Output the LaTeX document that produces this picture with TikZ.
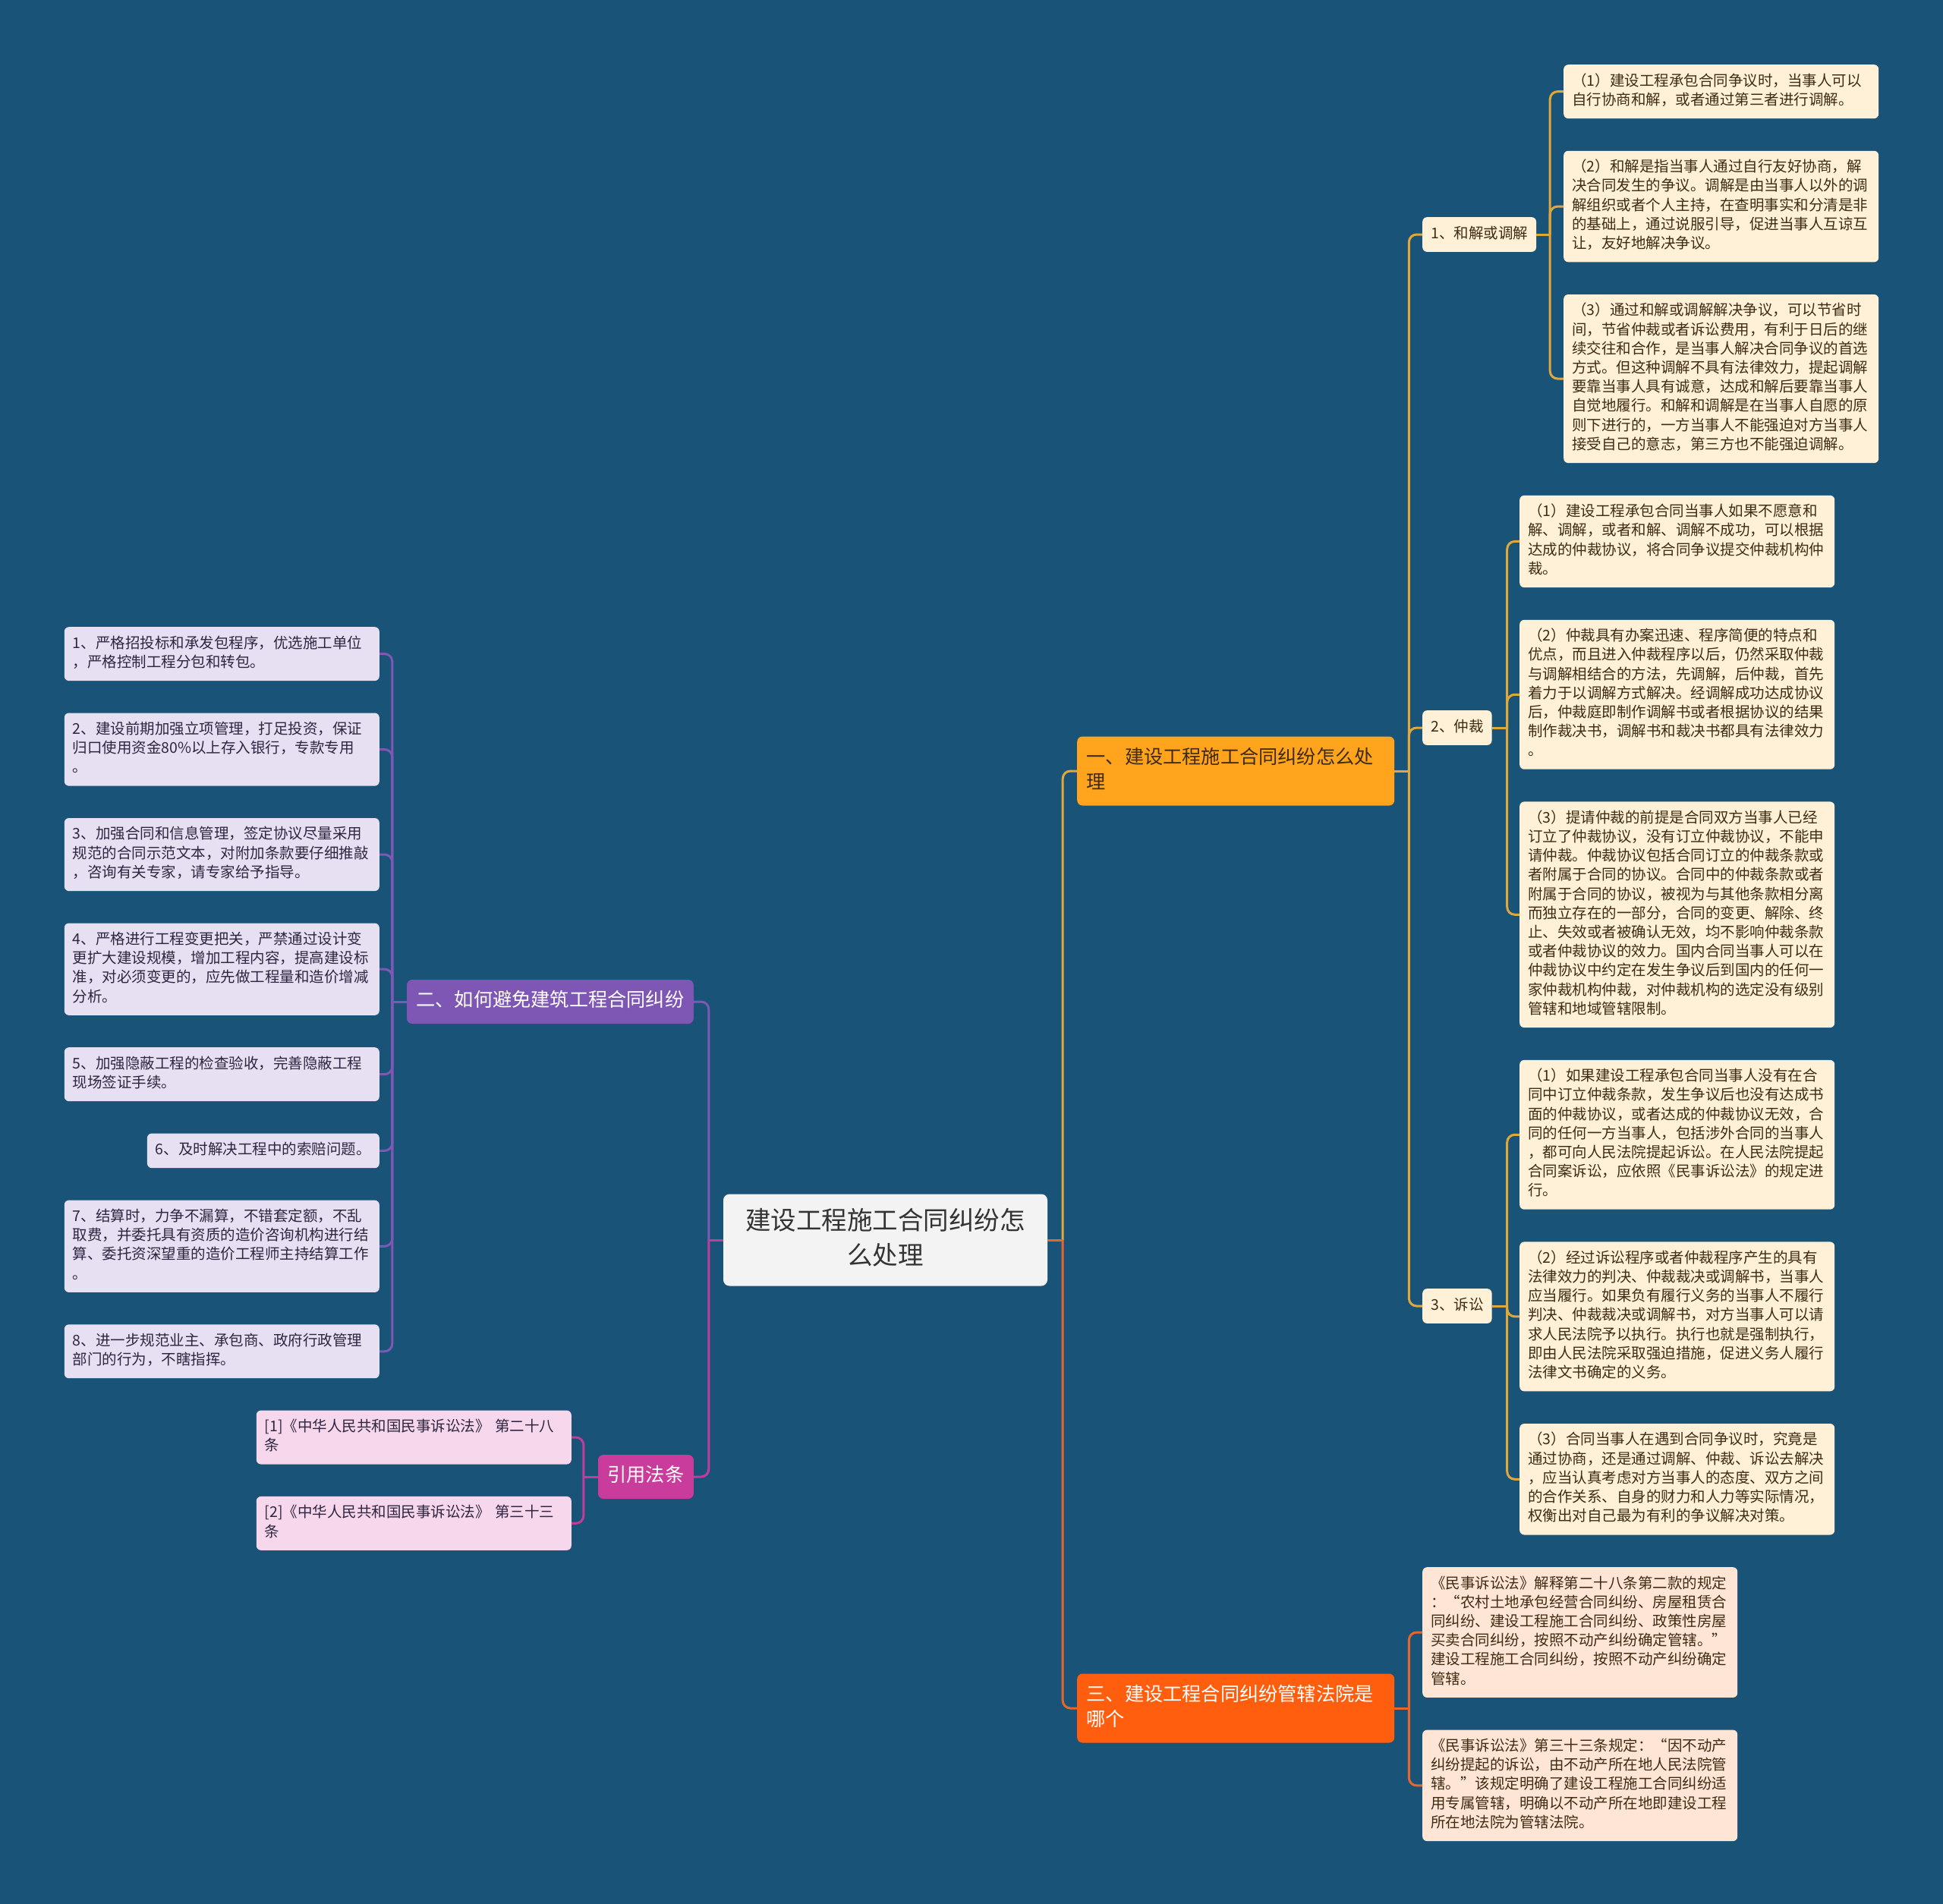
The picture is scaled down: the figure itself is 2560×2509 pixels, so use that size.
\documentclass[tikz,border=0pt]{standalone}
\usepackage{fontspec}
\setmainfont{Noto Sans CJK SC}
\usetikzlibrary{positioning}
\definecolor{TreeBg}{HTML}{1A5378}
\definecolor{TreeRoot}{HTML}{F3F3F3}
\definecolor{TreeInk}{HTML}{333333}
\definecolor{TreeAmber}{HTML}{FFA41C}
\definecolor{TreeFlame}{HTML}{FF5E0E}
\definecolor{TreeViolet}{HTML}{7E56B4}
\definecolor{TreeMagenta}{HTML}{C93C9C}
\definecolor{TreeCream}{HTML}{FFF0D8}
\definecolor{TreePeach}{HTML}{FFE5D6}
\definecolor{TreeLavender}{HTML}{E6E0F2}
\definecolor{TreePink}{HTML}{F6D7EB}
\definecolor{TreeBrown}{HTML}{3E2C12}
\definecolor{TreeDusk}{HTML}{2E2640}
\definecolor{TreeGoldLine}{HTML}{E0A73A}
\definecolor{TreeFlameLine}{HTML}{E8662C}
\definecolor{TreeVioletLine}{HTML}{7E58B2}
\definecolor{TreeMagentaLine}{HTML}{C23C99}
\tikzset{
  tree root/.style={
    fill=TreeRoot,
    text=TreeInk,
    rounded corners=8pt,
    align=center,
    text width=380pt,
    inner xsep=23.5pt,
    inner ysep=14.8pt,
    font=\fontsize{33.5}{45.7}\selectfont,
    execute at begin node=\strut,
    execute at end node=\strut
  },
  tree branch/.style={
    rounded corners=7pt,
    align=left,
    inner xsep=12.5pt,
    inner ysep=12.5pt,
    font=\fontsize{25.2}{33}\selectfont,
    execute at begin node=\strut,
    execute at end node=\strut
  },
  tree tag/.style={
    rounded corners=6pt,
    align=left,
    inner xsep=11pt,
    inner ysep=10.25pt,
    font=\fontsize{19.5}{25.2}\selectfont,
    execute at begin node=\strut,
    execute at end node=\strut
  },
  tree leaf/.style={tree tag,text width=393pt},
  tone amber/.style={fill=TreeAmber,text=TreeBrown},
  tone flame/.style={fill=TreeFlame,text=white},
  tone violet/.style={fill=TreeViolet,text=white},
  tone magenta/.style={fill=TreeMagenta,text=white},
  tone cream/.style={fill=TreeCream,text=TreeBrown},
  tone peach/.style={fill=TreePeach,text=TreeBrown},
  tone lavender/.style={fill=TreeLavender,text=TreeDusk},
  tone pink/.style={fill=TreePink,text=TreeDusk},
  tree link/.style={line width=3pt,rounded corners=10pt},
  link gold/.style={tree link,draw=TreeGoldLine},
  link flame/.style={tree link,draw=TreeFlameLine},
  link violet/.style={tree link,draw=TreeVioletLine},
  link magenta/.style={tree link,draw=TreeMagentaLine}
}

\begin{document}
\begin{tikzpicture}[x=1pt,y=-1pt]
  \fill[TreeBg] (0,0) rectangle (2560,2509);
  \useasboundingbox (0,0) rectangle (2560,2509);

  % root and main branches
  \node[tree root] (root) at (1166.5,1634) {建设工程施工合同纠纷怎\\么处理};
  \node[tree branch,tone amber,text width=393pt,anchor=west] (handle) at (1419,1016) {一、建设工程施工合同纠纷怎么处\\理};
  \node[tree branch,tone flame,text width=393pt,anchor=west] (court) at (1419,2251) {三、建设工程合同纠纷管辖法院是\\哪个};
  \node[tree branch,tone violet,anchor=east] (avoid) at (914,1320) {二、如何避免建筑工程合同纠纷};
  \node[tree branch,tone magenta,anchor=east] (cite) at (914,1946) {引用法条};

  % ways of handling
  \node[tree tag,tone cream,anchor=west] (settle) at (1874,309) {1、和解或调解};
  \node[tree tag,tone cream,anchor=west] (arbit) at (1874,959) {2、仲裁};
  \node[tree tag,tone cream,anchor=west] (suit) at (1874,1721) {3、诉讼};

  \node[tree leaf,tone cream,anchor=north west] (settle1) at (2060,85) {（1）建设工程承包合同争议时，当事人可以\\自行协商和解，或者通过第三者进行调解。};
  \node[tree leaf,tone cream,below=42.3pt of settle1.south west,anchor=north west] (settle2) {（2）和解是指当事人通过自行友好协商，解\\决合同发生的争议。调解是由当事人以外的调\\解组织或者个人主持，在查明事实和分清是非\\的基础上，通过说服引导，促进当事人互谅互\\让，友好地解决争议。};
  \node[tree leaf,tone cream,below=42.3pt of settle2.south west,anchor=north west] (settle3) {（3）通过和解或调解解决争议，可以节省时\\间，节省仲裁或者诉讼费用，有利于日后的继\\续交往和合作，是当事人解决合同争议的首选\\方式。但这种调解不具有法律效力，提起调解\\要靠当事人具有诚意，达成和解后要靠当事人\\自觉地履行。和解和调解是在当事人自愿的原\\则下进行的，一方当事人不能强迫对方当事人\\接受自己的意志，第三方也不能强迫调解。};

  \node[tree leaf,tone cream,below=42.3pt of settle3.south west,anchor=north west,xshift=-58pt] (arbit1) {（1）建设工程承包合同当事人如果不愿意和\\解、调解，或者和解、调解不成功，可以根据\\达成的仲裁协议，将合同争议提交仲裁机构仲\\裁。};
  \node[tree leaf,tone cream,below=42.3pt of arbit1.south west,anchor=north west] (arbit2) {（2）仲裁具有办案迅速、程序简便的特点和\\优点，而且进入仲裁程序以后，仍然采取仲裁\\与调解相结合的方法，先调解，后仲裁，首先\\着力于以调解方式解决。经调解成功达成协议\\后，仲裁庭即制作调解书或者根据协议的结果\\制作裁决书，调解书和裁决书都具有法律效力\\。};
  \node[tree leaf,tone cream,below=42.3pt of arbit2.south west,anchor=north west] (arbit3) {（3）提请仲裁的前提是合同双方当事人已经\\订立了仲裁协议，没有订立仲裁协议，不能申\\请仲裁。仲裁协议包括合同订立的仲裁条款或\\者附属于合同的协议。合同中的仲裁条款或者\\附属于合同的协议，被视为与其他条款相分离\\而独立存在的一部分，合同的变更、解除、终\\止、失效或者被确认无效，均不影响仲裁条款\\或者仲裁协议的效力。国内合同当事人可以在\\仲裁协议中约定在发生争议后到国内的任何一\\家仲裁机构仲裁，对仲裁机构的选定没有级别\\管辖和地域管辖限制。};

  \node[tree leaf,tone cream,below=42.3pt of arbit3.south west,anchor=north west] (suit1) {（1）如果建设工程承包合同当事人没有在合\\同中订立仲裁条款，发生争议后也没有达成书\\面的仲裁协议，或者达成的仲裁协议无效，合\\同的任何一方当事人，包括涉外合同的当事人\\，都可向人民法院提起诉讼。在人民法院提起\\合同案诉讼，应依照《民事诉讼法》的规定进\\行。};
  \node[tree leaf,tone cream,below=42.3pt of suit1.south west,anchor=north west] (suit2) {（2）经过诉讼程序或者仲裁程序产生的具有\\法律效力的判决、仲裁裁决或调解书，当事人\\应当履行。如果负有履行义务的当事人不履行\\判决、仲裁裁决或调解书，对方当事人可以请\\求人民法院予以执行。执行也就是强制执行，\\即由人民法院采取强迫措施，促进义务人履行\\法律文书确定的义务。};
  \node[tree leaf,tone cream,below=42.3pt of suit2.south west,anchor=north west] (suit3) {（3）合同当事人在遇到合同争议时，究竟是\\通过协商，还是通过调解、仲裁、诉讼去解决\\，应当认真考虑对方当事人的态度、双方之间\\的合作关系、自身的财力和人力等实际情况，\\权衡出对自己最为有利的争议解决对策。};

  % jurisdiction
  \node[tree leaf,tone peach,below=42.3pt of suit3.south west,anchor=north west,xshift=-128pt] (court1) {《民事诉讼法》解释第二十八条第二款的规定\\：“农村土地承包经营合同纠纷、房屋租赁合\\同纠纷、建设工程施工合同纠纷、政策性房屋\\买卖合同纠纷，按照不动产纠纷确定管辖。”\\建设工程施工合同纠纷，按照不动产纠纷确定\\管辖。};
  \node[tree leaf,tone peach,below=42.3pt of court1.south west,anchor=north west] (court2) {《民事诉讼法》第三十三条规定：“因不动产\\纠纷提起的诉讼，由不动产所在地人民法院管\\辖。”该规定明确了建设工程施工合同纠纷适\\用专属管辖，明确以不动产所在地即建设工程\\所在地法院为管辖法院。};

  % prevention
  \node[tree leaf,tone lavender,anchor=north east] (avoid1) at (500,826) {1、严格招投标和承发包程序，优选施工单位\\，严格控制工程分包和转包。};
  \node[tree leaf,tone lavender,below=42pt of avoid1.south east,anchor=north east] (avoid2) {2、建设前期加强立项管理，打足投资，保证\\归口使用资金80\%以上存入银行，专款专用\\。};
  \node[tree leaf,tone lavender,below=42pt of avoid2.south east,anchor=north east] (avoid3) {3、加强合同和信息管理，签定协议尽量采用\\规范的合同示范文本，对附加条款要仔细推敲\\，咨询有关专家，请专家给予指导。};
  \node[tree leaf,tone lavender,below=42pt of avoid3.south east,anchor=north east] (avoid4) {4、严格进行工程变更把关，严禁通过设计变\\更扩大建设规模，增加工程内容，提高建设标\\准，对必须变更的，应先做工程量和造价增减\\分析。};
  \node[tree leaf,tone lavender,below=42pt of avoid4.south east,anchor=north east] (avoid5) {5、加强隐蔽工程的检查验收，完善隐蔽工程\\现场签证手续。};
  \node[tree tag,tone lavender,below=42pt of avoid5.south east,anchor=north east] (avoid6) {6、及时解决工程中的索赔问题。};
  \node[tree leaf,tone lavender,below=42pt of avoid6.south east,anchor=north east] (avoid7) {7、结算时，力争不漏算，不错套定额，不乱\\取费，并委托具有资质的造价咨询机构进行结\\算、委托资深望重的造价工程师主持结算工作\\。};
  \node[tree leaf,tone lavender,below=42pt of avoid7.south east,anchor=north east] (avoid8) {8、进一步规范业主、承包商、政府行政管理\\部门的行为，不瞎指挥。};

  % cited articles
  \node[tree leaf,tone pink,below=42pt of avoid8.south east,anchor=north east,xshift=253pt] (cite1) {[1]《中华人民共和国民事诉讼法》 第二十八\\条};
  \node[tree leaf,tone pink,below=42pt of cite1.south east,anchor=north east] (cite2) {[2]《中华人民共和国民事诉讼法》 第三十三\\条};

  % junctions
  \coordinate (jroot) at ([xshift=20pt]root.east);
  \coordinate (jleft) at ([xshift=-19pt]root.west);
  \coordinate (jhandle) at ([xshift=19pt]handle.east);
  \coordinate (jsettle) at ([xshift=18pt]settle.east);
  \coordinate (jarbit) at ([xshift=20pt]arbit.east);
  \coordinate (jsuit) at ([xshift=20pt]suit.east);
  \coordinate (jcourt) at ([xshift=19pt]court.east);
  \coordinate (javoid) at ([xshift=-19pt]avoid.west);
  \coordinate (jcite) at ([xshift=-19pt]cite.west);

  \draw[link gold] (jroot) |- (handle.west);
  \draw[link flame] (jroot) |- (court.west);
  \draw[link flame] (root.east) -- (jroot);
  \draw[link violet] (jleft) |- (avoid.east);
  \draw[link magenta] (jleft) |- (cite.east);
  \draw[link magenta] (root.west) -- (jleft);

  \draw[link gold] (handle.east) -- (jhandle);
  \draw[link gold] (jhandle) |- (settle.west);
  \draw[link gold] (jhandle) |- (arbit.west);
  \draw[link gold] (jhandle) |- (suit.west);

  \draw[link gold] (settle.east) -- (jsettle);
  \draw[link gold] (jsettle) |- (settle1.west);
  \draw[link gold] (jsettle) |- (settle2.west);
  \draw[link gold] (jsettle) |- (settle3.west);

  \draw[link gold] (arbit.east) -- (jarbit);
  \draw[link gold] (jarbit) |- (arbit1.west);
  \draw[link gold] (jarbit) |- (arbit2.west);
  \draw[link gold] (jarbit) |- (arbit3.west);

  \draw[link gold] (suit.east) -- (jsuit);
  \draw[link gold] (jsuit) |- (suit1.west);
  \draw[link gold] (jsuit) |- (suit2.west);
  \draw[link gold] (jsuit) |- (suit3.west);

  \draw[link flame] (court.east) -- (jcourt);
  \draw[link flame] (jcourt) |- (court1.west);
  \draw[link flame] (jcourt) |- (court2.west);

  \draw[link violet] (avoid.west) -- (javoid);
  \draw[link violet] (javoid) |- (avoid1.east);
  \draw[link violet] (javoid) |- (avoid2.east);
  \draw[link violet] (javoid) |- (avoid3.east);
  \draw[link violet] (javoid) |- (avoid4.east);
  \draw[link violet] (javoid) |- (avoid5.east);
  \draw[link violet] (javoid) |- (avoid6.east);
  \draw[link violet] (javoid) |- (avoid7.east);
  \draw[link violet] (javoid) |- (avoid8.east);

  \draw[link magenta] (cite.west) -- (jcite);
  \draw[link magenta] (jcite) |- (cite1.east);
  \draw[link magenta] (jcite) |- (cite2.east);
\end{tikzpicture}
\end{document}
